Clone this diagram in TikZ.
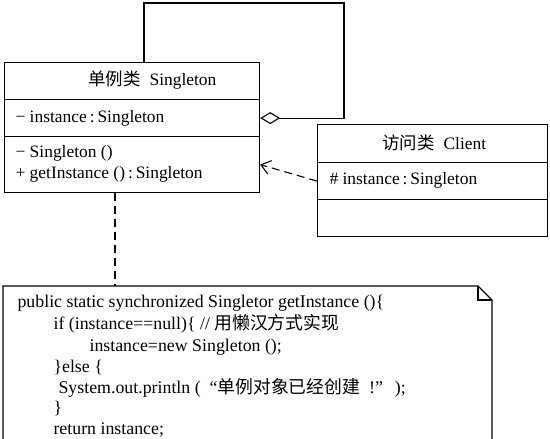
\documentclass[tikz,border=0pt]{standalone}
\usepackage{fontspec}
\setmainfont{Liberation Serif}
\newfontfamily\cjk{Noto Sans CJK SC}
\usetikzlibrary{arrows.meta}

\tikzset{
	fach/.style={draw, line width=1.2bp, anchor=north west, inner sep=0pt, minimum width=255bp},
	eintrag/.style={anchor=base west, inner sep=0pt, font=\fontsize{17.5}{21}\selectfont},
	code/.style={eintrag, font=\fontsize{17.9}{21}\selectfont},
	strich/.style={dashed, dash pattern=on 8bp off 5bp, line width=1.1bp},
}

\begin{document}
\begin{tikzpicture}[x=1bp, y=-1bp, line width=1.1bp]
			\useasboundingbox (0,0) rectangle (550,439);
			\clip (0,0) rectangle (550,439);

			% Klasse Singleton
			\node[fach, minimum height=37bp] (S1) at (4,62) {};
			\node[fach, minimum height=37bp] (S2) at (4,99) {};
			\node[fach, minimum height=56bp] (S3) at (4,136) {};
			\node[eintrag] (ST) at (88,86) {{\cjk 单例类}\enspace Singleton};
			\node[eintrag] (SA) at (15,123) {− instance\,:\,Singleton};
			\node[eintrag] (SM1) at (15,158) {− Singleton ()};
			\node[eintrag] (SM2) at (15,179) {+ getInstance ()\,:\,Singleton};

			% Klasse Client
			\node[fach, minimum width=230bp, minimum height=38bp] (C1) at (317,124) {};
			\node[fach, minimum width=230bp, minimum height=37bp] (C2) at (317,162) {};
			\node[fach, minimum width=230bp, minimum height=37bp] (C3) at (317,199) {};
			\node[eintrag] (CT) at (382,150) {{\cjk 访问类}\enspace Client};
			\node[eintrag] (CA) at (329,185) {\# instance\,:\,Singleton};

			% Aggregation auf sich selbst
			\coordinate (A1) at (144,3);
			\coordinate (A2) at (344,3);
			\draw[{Diamond[open, length=20bp, width=12bp]}-] (S2.east) -- (S2.east -| A2) -- (A2) -- (A1) -- (A1 |- S1.north);

			% Abhaengigkeit Client -> Singleton
			\draw[strich, -{Straight Barb[length=9bp, width=14bp]}] (C2.west) -- (S3.east);

			% Notiz
			\coordinate (N1) at (3,445);
			\coordinate (N2) at (3,286);
			\coordinate (N3) at (478,286);
			\coordinate (N4) at (492,300);
			\coordinate (N5) at (492,445);
			\draw (N1) -- (N2) -- (N3) -- (N4) -- (N5);
			\draw (N3) -- (N3 |- N4) -- (N4);

			% Verbindung zur Notiz
			\coordinate (L) at (115,0);
			\draw[strich] (S3.south -| L) -- (N2 -| L);

			% Code
			\node[code] (Z1) at (17,307) {public static synchronized Singletor getInstance ()\{};
			\node[code] (Z2) at (53,329) {if (instance==null)\{ // {\cjk 用懒汉方式实现}};
			\node[code] (Z3) at (89,351) {instance=new Singleton ();};
			\node[code] (Z4) at (53,372) {\}else \{};
			\node[code] (Z5) at (58,393) {System.out.println (\enspace“{\cjk 单例对象已经创建}\enspace!”\enspace\,);};
			\node[code] (Z6) at (53,413) {\}};
			\node[code] (Z7) at (53,434) {return instance;};
\end{tikzpicture}
\end{document}
